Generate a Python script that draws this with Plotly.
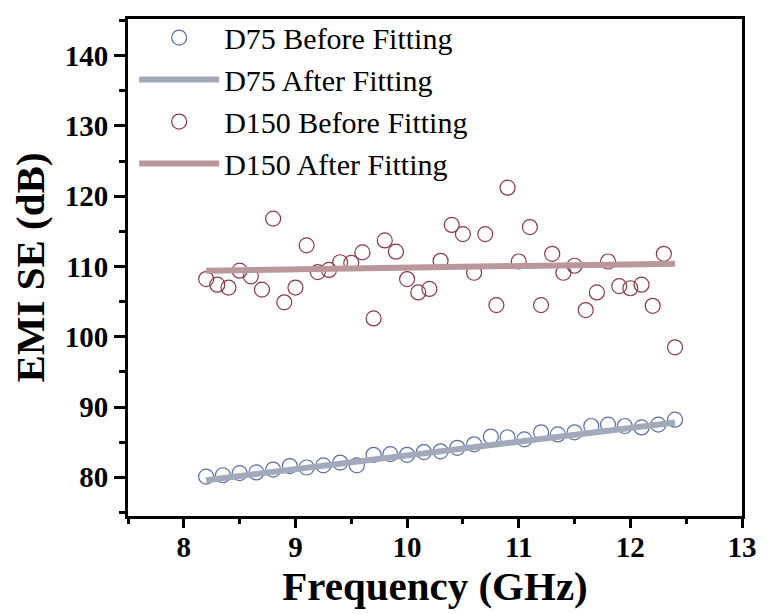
import plotly.graph_objects as go

# ---- data ----
d75_freq = [8.2, 8.35, 8.5, 8.65, 8.8, 8.95, 9.1, 9.25, 9.4, 9.55, 9.7, 9.85, 10.0, 10.15,
            10.3, 10.45, 10.6, 10.75, 10.9, 11.05, 11.2, 11.35, 11.5, 11.65, 11.8, 11.95,
            12.1, 12.25, 12.4]
d75_se = [80.1, 80.3, 80.6, 80.7, 81.1, 81.6, 81.4, 81.7, 82.1, 81.7, 83.2, 83.3, 83.2, 83.6,
          83.7, 84.2, 84.7, 85.8, 85.7, 85.4, 86.4, 86.1, 86.4, 87.3, 87.5, 87.3,
          87.1, 87.5, 88.2]

d150_freq = [8.2, 8.3, 8.4, 8.5, 8.6, 8.7, 8.8, 8.9, 9.0, 9.1, 9.2, 9.3, 9.4, 9.5, 9.6, 9.7,
             9.8, 9.9, 10.0, 10.1, 10.2, 10.3, 10.4, 10.5, 10.6, 10.7, 10.8, 10.9, 11.0,
             11.1, 11.2, 11.3, 11.4, 11.5, 11.6, 11.7, 11.8, 11.9, 12.0, 12.1, 12.2, 12.3, 12.4]
d150_se = [108.2, 107.4, 107.0, 109.4, 108.6, 106.7, 116.8, 104.9, 107.0, 113.0, 109.2, 109.5,
           110.6, 110.5, 112.0, 102.6, 113.7, 112.1, 108.2, 106.3, 106.8, 110.8, 115.9, 114.6,
           109.1, 114.6, 104.5, 121.2, 110.7, 115.6, 104.5, 111.8, 109.1, 110.1, 103.8, 106.3,
           110.7, 107.2, 106.9, 107.4, 104.4, 111.8, 98.5]

fit_freq = [8.2, 12.4]
d75_fit = [79.6, 87.8]
d150_fit = [109.4, 110.4]

x_ticks = [8, 9, 10, 11, 12, 13]
y_ticks = [80, 90, 100, 110, 120, 130, 140]

# ---- styling ----
C75_PT = "#5a6da6"
C75_LN = "#a2a9ba"
C150_PT = "#8c3a45"
C150_LN = "#b9979b"
SERIF = "Liberation Serif, Times New Roman, serif"

fig = go.Figure()
fig.add_trace(go.Scatter(x=d75_freq, y=d75_se, mode="markers", name="D75 Before Fitting",
                         marker=dict(symbol="circle-open", size=15, color=C75_PT,
                                     line=dict(width=1.2, color=C75_PT))))
fig.add_trace(go.Scatter(x=fit_freq, y=d75_fit, mode="lines", name="D75 After Fitting",
                         line=dict(color=C75_LN, width=6)))
fig.add_trace(go.Scatter(x=d150_freq, y=d150_se, mode="markers", name="D150 Before Fitting",
                         marker=dict(symbol="circle-open", size=15, color=C150_PT,
                                     line=dict(width=1.2, color=C150_PT))))
fig.add_trace(go.Scatter(x=fit_freq, y=d150_fit, mode="lines", name="D150 After Fitting",
                         line=dict(color=C150_LN, width=6)))

axis_common = dict(showline=True, linecolor="black", linewidth=3, mirror=True,
                   ticks="outside", tickwidth=3, tickcolor="black",
                   showgrid=False, zeroline=False,
                   tickfont=dict(family=SERIF, size=29, color="black", weight="bold"))

fig.update_layout(
    width=769, height=614,
    margin=dict(l=128, r=19, t=13, b=98),
    paper_bgcolor="white", plot_bgcolor="white",
    xaxis=dict(range=[7.5, 13], tickvals=x_ticks, ticklen=9, ticklabelstandoff=-6,
               minor=dict(dtick=0.5, ticks="outside", ticklen=5, tickwidth=3, tickcolor="black"),
               title=dict(text="Frequency (GHz)", standoff=4,
                          font=dict(family=SERIF, size=41, color="black", weight="bold")),
               **axis_common),
    yaxis=dict(range=[74.5, 145.2], tickvals=y_ticks, ticklen=11,
               minor=dict(dtick=5, ticks="outside", ticklen=6, tickwidth=3, tickcolor="black"),
               title=dict(text="EMI SE (dB)", standoff=8,
                          font=dict(family=SERIF, size=41, color="black", weight="bold")),
               **axis_common),
    legend=dict(x=0.01, y=1.015, xanchor="left", yanchor="top", bgcolor="rgba(0,0,0,0)",
                font=dict(family=SERIF, size=30, color="black"),
                itemwidth=80, tracegroupgap=0),
    showlegend=True,
)

fig.write_html("out.html", config={"displayModeBar": False},
               post_script="document.body.style.margin='0';document.body.style.overflow='hidden';")
